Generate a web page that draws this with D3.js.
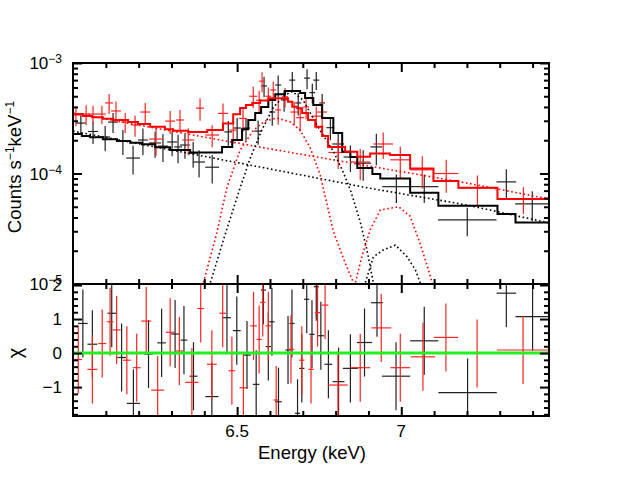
<!DOCTYPE html>
<html>
<head>
<meta charset="utf-8">
<script src="https://cdn.jsdelivr.net/npm/d3@7"></script>
<style>
  body { margin: 0; background: #fff; }
  text { font-family: "Liberation Sans", Arial, sans-serif; }
</style>
</head>
<body>
<svg id="chart" width="623" height="481"></svg>
<script>
// flux values below are in units of 1e-4 counts/s/keV
const UNIT = 1e-4;

// black spectrum: bin centre (keV), half width, flux, error
const blackE = [6.024, 6.061, 6.098, 6.122, 6.152, 6.183, 6.213, 6.250, 6.274, 6.302,
                6.320, 6.341, 6.366, 6.384, 6.424, 6.473, 6.500, 6.527, 6.564, 6.582,
                6.607, 6.625, 6.643, 6.668, 6.686, 6.713, 6.729, 6.741, 6.759, 6.784,
                6.808, 6.845, 6.884, 6.924, 6.985, 7.070, 7.201, 7.320, 7.399];
const blackW = [0.015, 0.015, 0.015, 0.015, 0.015, 0.021, 0.015, 0.018, 0.015, 0.015,
                0.012, 0.015, 0.015, 0.018, 0.021, 0.012, 0.012, 0.012, 0.012, 0.009,
                0.009, 0.009, 0.009, 0.009, 0.009, 0.009, 0.009, 0.009, 0.009, 0.012,
                0.018, 0.021, 0.024, 0.018, 0.043, 0.043, 0.089, 0.030, 0.052];
const blackF = [2.86, 2.40, 2.14, 2.92, 1.97, 1.38, 2.01, 1.89, 1.77, 1.93,
                1.74, 1.81, 1.53, 1.27, 1.14, 2.38, 2.58, 2.58, 2.42, 6.2,
                3.6, 6.32, 4.63, 7.0, 4.35, 7.3, 5.4, 7.0, 4.35, 2.6,
                1.85, 1.41, 1.24, 1.74, 0.76, 0.76, 0.38, 0.84, 0.53];
const blackErr = [0.6, 0.55, 0.55, 0.6, 0.5, 0.4, 0.55, 0.5, 0.5, 0.5,
                  0.5, 0.45, 0.4, 0.35, 0.33, 0.6, 0.6, 0.6, 0.6, 1.3,
                  0.9, 1.4, 1.0, 1.3, 1.0, 1.5, 1.1, 1.3, 0.9, 0.6,
                  0.5, 0.38, 0.38, 0.55, 0.22, 0.22, 0.11, 0.25, 0.16];

// red spectrum
const redE = [6.009, 6.040, 6.061, 6.088, 6.110, 6.131, 6.159, 6.189, 6.220, 6.253,
              6.296, 6.326, 6.351, 6.387, 6.424, 6.457, 6.488, 6.518, 6.549, 6.567,
              6.576, 6.595, 6.610, 6.625, 6.646, 6.674, 6.692, 6.710, 6.741, 6.759,
              6.808, 6.875, 6.945, 6.997, 7.064, 7.137, 7.232, 7.372];
const redW = [0.012, 0.012, 0.015, 0.012, 0.012, 0.015, 0.012, 0.012, 0.015, 0.021,
              0.015, 0.012, 0.018, 0.012, 0.021, 0.015, 0.012, 0.012, 0.012, 0.009,
              0.009, 0.009, 0.009, 0.009, 0.009, 0.012, 0.012, 0.009, 0.015, 0.015,
              0.030, 0.030, 0.030, 0.030, 0.037, 0.037, 0.060, 0.080];
const redF = [3.38, 3.45, 3.45, 3.45, 4.35, 3.68, 2.92, 2.75, 3.6, 2.05,
              2.98, 3.05, 2.01, 3.9, 2.23, 3.5, 2.47, 3.15, 5.0, 4.6,
              6.85, 5.0, 5.7, 3.76, 4.95, 3.6, 3.2, 4.0, 3.3, 3.6,
              1.55, 1.27, 1.85, 1.33, 1.08, 1.0, 0.74, 0.59];
const redErr = [0.7, 0.7, 0.65, 0.65, 0.9, 0.8, 0.6, 0.6, 0.75, 0.6,
                0.7, 0.7, 0.55, 0.9, 0.5, 0.8, 0.6, 0.75, 1.1, 1.0,
                1.4, 1.0, 1.1, 1.0, 1.0, 0.85, 0.8, 0.9, 0.75, 1.0,
                0.45, 0.4, 0.5, 0.42, 0.35, 0.33, 0.22, 0.16];

// folded model, histogram bins (edges in keV, one value per bin)
const blackModelEdges = [6.000, 6.027, 6.052, 6.091, 6.134, 6.174, 6.210, 6.250, 6.296, 6.357,
                         6.454, 6.485, 6.515, 6.534, 6.555, 6.573, 6.595, 6.616, 6.646, 6.692,
                         6.707, 6.732, 6.759, 6.793, 6.820, 6.845, 6.866, 6.912, 6.936, 7.027,
                         7.113, 7.293, 7.348, 7.451];
const blackModelF = [2.28, 2.18, 2.13, 2.04, 1.97, 1.90, 1.84, 1.73, 1.63, 1.55,
                     1.74, 2.01, 2.52, 3.05, 3.53, 3.99, 4.62, 5.21, 5.58, 5.35,
                     4.82, 4.16, 3.18, 2.33, 1.57, 1.41, 1.12, 0.99, 0.90, 0.67,
                     0.51, 0.43, 0.36];
const redModelEdges = [6.000, 6.030, 6.058, 6.091, 6.122, 6.168, 6.198, 6.235, 6.280, 6.305,
                       6.351, 6.409, 6.457, 6.488, 6.509, 6.527, 6.546, 6.570, 6.595, 6.655,
                       6.668, 6.683, 6.698, 6.716, 6.738, 6.759, 6.777, 6.829, 6.866, 6.905,
                       6.966, 7.027, 7.098, 7.174, 7.293, 7.451];
const redModelF = [3.46, 3.32, 3.23, 3.13, 3.05, 2.92, 2.80, 2.65, 2.52, 2.44,
                   2.37, 2.47, 2.84, 3.44, 3.91, 4.16, 4.34, 4.57, 4.79, 4.46,
                   4.02, 3.89, 3.53, 3.05, 2.65, 2.18, 1.74, 1.57, 1.42, 1.52,
                   1.47, 1.11, 0.855, 0.743, 0.588];

// model components (dotted)
const blackContE = [6.0, 6.3, 6.6, 6.9, 7.2, 7.45];
const blackContF = [2.42, 1.63, 1.10, 0.739, 0.519, 0.357];
const redContE = [6.0, 6.3, 6.6, 6.9, 7.2, 7.45];
const redContF = [3.53, 2.42, 1.67, 1.17, 0.82, 0.588];
const blackLine1E = [6.409, 6.418, 6.463, 6.509, 6.540, 6.575, 6.611, 6.646, 6.668, 6.701,
                     6.743, 6.794, 6.823, 6.845, 6.875, 6.896, 6.915, 6.924];
const blackLine1F = [0.08, 0.102, 0.278, 0.74, 1.38, 2.47, 3.99, 5.13, 5.52, 4.62,
                     2.74, 1.57, 1.03, 0.71, 0.365, 0.20, 0.102, 0.0716];
const blackLine2E = [6.881, 6.890, 6.915, 6.945, 6.982, 7.018, 7.043, 7.058, 7.067];
const blackLine2F = [0.08, 0.102, 0.176, 0.203, 0.225, 0.176, 0.134, 0.102, 0.08];
const redLine1E = [6.387, 6.397, 6.438, 6.469, 6.509, 6.550, 6.585, 6.622, 6.662, 6.692,
                   6.723, 6.753, 6.793, 6.829, 6.855, 6.863];
const redLine1F = [0.08, 0.102, 0.29, 0.75, 1.63, 2.47, 2.98, 3.18, 2.92, 2.47,
                   1.70, 0.97, 0.30, 0.155, 0.102, 0.08];
const redLine2E = [6.851, 6.860, 6.880, 6.905, 6.936, 6.992, 7.027, 7.058, 7.083, 7.094, 7.101];
const redLine2F = [0.08, 0.102, 0.177, 0.308, 0.467, 0.50, 0.41, 0.23, 0.134, 0.102, 0.08];

// residuals (chi), error bars are +-1
const blackResE = [6.030, 6.059, 6.118, 6.148, 6.184, 6.230, 6.270, 6.311, 6.338, 6.367,
                   6.423, 6.469, 6.499, 6.530, 6.558, 6.580, 6.595, 6.606, 6.626, 6.655,
                   6.667, 6.684, 6.697, 6.712, 6.728, 6.741, 6.755, 6.778, 6.809, 6.845,
                   6.888, 6.926, 6.984, 7.070, 7.202, 7.320, 7.400];
const blackResW = [0.015, 0.015, 0.013, 0.013, 0.020, 0.013, 0.013, 0.012, 0.010, 0.012,
                   0.020, 0.012, 0.012, 0.012, 0.010, 0.008, 0.008, 0.008, 0.010, 0.008,
                   0.008, 0.008, 0.008, 0.008, 0.008, 0.008, 0.010, 0.012, 0.018, 0.023,
                   0.023, 0.018, 0.043, 0.043, 0.089, 0.030, 0.052];
const blackResR = [0.87, 0.26, 1.17, -0.13, -1.48, -0.03, 0.30, 0.56, 0.38, -0.68,
                   -1.28, 1.04, 0.66, -0.06, -0.92, 1.85, 0.19, 0.92, -1.43, 0.09,
                   0.87, -1.77, -0.45, 1.58, 0.55, 1.95, 0.51, -0.33, -0.84, -0.45,
                   0.31, 1.48, -0.68, 0.36, -1.16, 1.76, 1.07];
const redResE = [6.016, 6.059, 6.089, 6.113, 6.133, 6.164, 6.194, 6.223, 6.258, 6.296,
                 6.324, 6.362, 6.389, 6.423, 6.456, 6.484, 6.519, 6.550, 6.567, 6.578,
                 6.595, 6.619, 6.664, 6.697, 6.725, 6.745, 6.768, 6.807, 6.875, 6.939,
                 6.997, 7.066, 7.136, 7.231, 7.371];
const redResW = [0.012, 0.015, 0.012, 0.010, 0.012, 0.012, 0.012, 0.015, 0.020, 0.013,
                 0.012, 0.020, 0.010, 0.015, 0.010, 0.010, 0.012, 0.010, 0.008, 0.008,
                 0.008, 0.008, 0.010, 0.008, 0.008, 0.008, 0.010, 0.030, 0.030, 0.030,
                 0.030, 0.037, 0.037, 0.060, 0.080];
const redResR = [-0.19, -0.48, 0.28, 0.92, 0.68, -0.21, -0.43, 0.94, -1.09, 0.61,
                 0.06, -0.86, 1.31, -0.33, 1.17, -0.52, -1.02, 0.80, 0.40, 1.49,
                 0.80, -1.38, 0.11, -0.21, -0.48, 1.19, 1.41, -0.94, -0.43, 0.74,
                 -0.43, -0.11, 0.46, -0.01, 0.09];
const zeroE = [6.0, 7.45];
const zeroR = [0, 0];

// ticks
const xMajor = [6.5, 7];
const xMinor = [6.1, 6.2, 6.3, 6.4, 6.6, 6.7, 6.8, 6.9, 7.1, 7.2, 7.3, 7.4];
const yMajor = [1e-5, 1e-4, 1e-3];
const yMinor = [2e-5, 3e-5, 4e-5, 5e-5, 6e-5, 7e-5, 8e-5, 9e-5,
                2e-4, 3e-4, 4e-4, 5e-4, 6e-4, 7e-4, 8e-4, 9e-4];
const yLabelExp = ["\u22125", "\u22124", "\u22123"];
const rMajor = [-1, 0, 1, 2];
const rMinor = [-1.8, -1.6, -1.4, -1.2, -0.8, -0.6, -0.4, -0.2,
                0.2, 0.4, 0.6, 0.8, 1.2, 1.4, 1.6, 1.8];

// layout
const L = 73, R = 549, T = 63, M = 284, B = 416;
const svg = d3.select("#chart");

const x = d3.scaleLinear().domain([6.0, 7.45]).range([L, R]);
const y = d3.scaleLog().domain([1e-5, 1e-3]).range([M, T]);
const yr = d3.scaleLinear().domain([-1.85, 2.03]).range([B, M]);

let defs = svg.append("defs");
defs.append("clipPath").attr("id", "clipTop").append("rect")
    .attr("x", L).attr("y", T).attr("width", R - L).attr("height", M - T);
defs.append("clipPath").attr("id", "clipRes").append("rect")
    .attr("x", L).attr("y", M).attr("width", R - L).attr("height", B - M);

let topG = svg.append("g").attr("clip-path", "url(#clipTop)");
let resG = svg.append("g").attr("clip-path", "url(#clipRes)");

function crosses(g, pts, color){
    // pts carry their own scales and values in data units
    let c = g.append("g").attr("stroke", color).attr("stroke-width", 1.2);
    c.selectAll(null).data(pts).enter().append("line")
        .attr("x1", d => d.xs(d.e - d.w)).attr("x2", d => d.xs(d.e + d.w))
        .attr("y1", d => d.ys(d.v)).attr("y2", d => d.ys(d.v));
    c.selectAll(null).data(pts).enter().append("line")
        .attr("x1", d => d.xs(d.e)).attr("x2", d => d.xs(d.e))
        .attr("y1", d => d.ys(d.lo)).attr("y2", d => d.ys(d.hi));
}

function specPoints(E, W, F, Err){
    return E.map((e, i) => ({xs: x, ys: y, e: e, w: W[i],
        v: F[i] * UNIT, lo: Math.max(F[i] - Err[i], 0.01) * UNIT, hi: (F[i] + Err[i]) * UNIT}));
}

function resPoints(E, W, Rv){
    return E.map((e, i) => ({xs: x, ys: yr, e: e, w: W[i], v: Rv[i], lo: Rv[i] - 1, hi: Rv[i] + 1}));
}

crosses(topG, specPoints(blackE, blackW, blackF, blackErr), "#222");
crosses(topG, specPoints(redE, redW, redF, redErr), "#f22");

// dotted model components
let dotLine = d3.line().x(d => x(d[0])).y(d => y(d[1] * UNIT));
function dotted(E, F, color){
    topG.append("path").datum(E.map((e, i) => [e, F[i]]))
        .attr("d", dotLine).attr("fill", "none").attr("stroke", color)
        .attr("stroke-width", 1.6).attr("stroke-dasharray", "1.6,2.6");
}
dotted(blackContE, blackContF, "#000");
dotted(redContE, redContF, "#f00");
dotted(blackLine1E, blackLine1F, "#000");
dotted(blackLine2E, blackLine2F, "#000");
dotted(redLine1E, redLine1F, "#f00");
dotted(redLine2E, redLine2F, "#f00");

// histogram models
let stepLine = d3.line().x(d => x(d[0])).y(d => y(d[1] * UNIT)).curve(d3.curveStepAfter);
function steps(edges, vals, color){
    let pts = vals.map((v, i) => [edges[i], v]);
    pts.push([edges[edges.length - 1], vals[vals.length - 1]]);
    topG.append("path").datum(pts).attr("d", stepLine)
        .attr("fill", "none").attr("stroke", color).attr("stroke-width", 2);
}
steps(blackModelEdges, blackModelF, "#000");
steps(redModelEdges, redModelF, "#f00");

// residual panel
crosses(resG, resPoints(blackResE, blackResW, blackResR), "#222");
crosses(resG, resPoints(redResE, redResW, redResR), "#f22");
resG.append("path").datum(zeroE.map((e, i) => [e, zeroR[i]]))
    .attr("d", d3.line().x(d => x(d[0])).y(d => yr(d[1])))
    .attr("stroke", "#22ee22").attr("stroke-width", 3).attr("fill", "none");

// axes with inward ticks on every side
function axis(fn, scale, vals, size, tr){
    let g = svg.append("g").attr("transform", tr)
        .call(fn(scale).tickValues(vals).tickSize(-size).tickFormat(""));
    g.select(".domain").remove();
    g.selectAll("line").attr("stroke", "#000").attr("stroke-width", 2);
    return g;
}
[[d3.axisTop, T], [d3.axisBottom, M], [d3.axisTop, M], [d3.axisBottom, B]].forEach(a => {
    axis(a[0], x, xMajor, 9, `translate(0,${a[1]})`);
    axis(a[0], x, xMinor, 5, `translate(0,${a[1]})`);
});
axis(d3.axisLeft, y, yMajor, 9, `translate(${L},0)`);
axis(d3.axisLeft, y, yMinor, 5, `translate(${L},0)`);
axis(d3.axisRight, y, yMajor, 9, `translate(${R},0)`);
axis(d3.axisRight, y, yMinor, 5, `translate(${R},0)`);
axis(d3.axisLeft, yr, rMajor, 9, `translate(${L},0)`);
axis(d3.axisLeft, yr, rMinor, 5, `translate(${L},0)`);
axis(d3.axisRight, yr, rMajor, 9, `translate(${R},0)`);
axis(d3.axisRight, yr, rMinor, 5, `translate(${R},0)`);

// frames
svg.append("rect").attr("x", L).attr("y", T).attr("width", R - L).attr("height", M - T)
    .attr("fill", "none").attr("stroke", "#000").attr("stroke-width", 2);
svg.append("rect").attr("x", L).attr("y", M).attr("width", R - L).attr("height", B - M)
    .attr("fill", "none").attr("stroke", "#000").attr("stroke-width", 2);

// tick labels
let xl = svg.append("g").attr("font-size", 17).attr("text-anchor", "middle");
xl.selectAll(null).data(xMajor).enter().append("text")
    .attr("x", d => x(d)).attr("y", B + 21).text(d => d);

let yl = svg.append("g").attr("font-size", 17).attr("text-anchor", "end");
yMajor.forEach((v, i) => {
    let t = yl.append("text").attr("x", L - 11).attr("y", y(v) + 6);
    t.append("tspan").text("10");
    t.append("tspan").attr("font-size", 12).attr("dy", -6).text(yLabelExp[i]);
});
yl.selectAll(null).data(rMajor).enter().append("text")
    .attr("x", L - 11).attr("y", d => yr(d) + 6)
    .text(d => d < 0 ? "\u2212" + Math.abs(d) : d);

// axis titles
svg.append("text").attr("x", 312).attr("y", 459).attr("text-anchor", "middle")
    .attr("font-size", 18.5).text("Energy (keV)");

let yt = svg.append("text").attr("transform", "translate(21,167) rotate(-90)")
    .attr("text-anchor", "middle").attr("font-size", 18.5);
yt.append("tspan").text("Counts s");
yt.append("tspan").attr("font-size", 12).attr("dy", -7).text("\u22121");
yt.append("tspan").attr("dy", 7).text("keV");
yt.append("tspan").attr("font-size", 12).attr("dy", -7).text("\u22121");

svg.append("text").attr("transform", `translate(22,${yr(0)}) rotate(-90)`)
    .attr("text-anchor", "middle").attr("font-size", 20).text("\u03c7");
</script>
</body>
</html>
